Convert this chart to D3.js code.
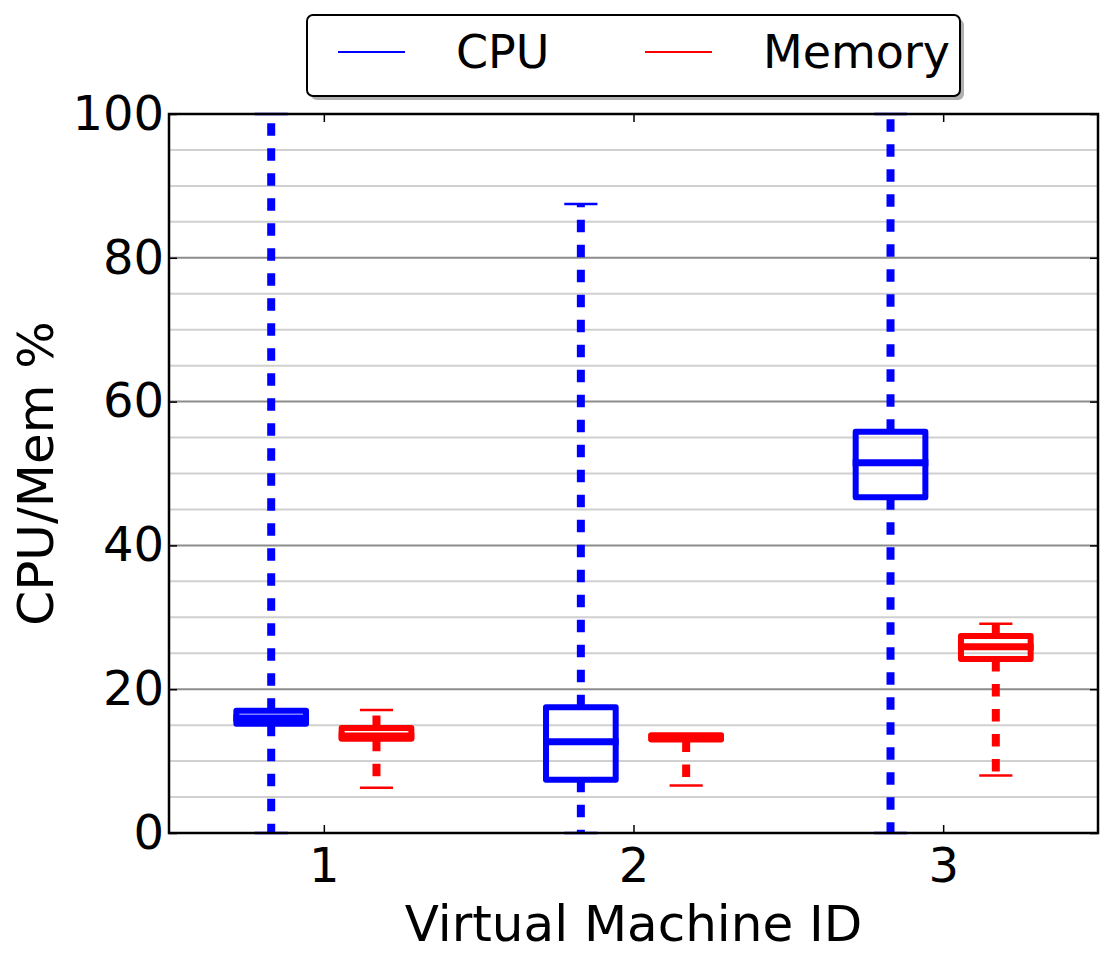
<!DOCTYPE html>
<html>
<head>
<meta charset="utf-8">
<script src="https://cdn.jsdelivr.net/npm/d3@7"></script>
<style>
  body { margin: 0; background: #fff; }
  text { font-family: "DejaVu Sans", sans-serif; }
</style>
</head>
<body>
<div class="chart"></div>
<script>
const w = 1114;
const h = 966;

// data
const machines = [1, 2, 3];
const series = ["CPU", "Memory"];
const colors = ["#0000ff", "#ff0000"];
// [whisker low, q1, median, q3, whisker high]
const cpuStats = [
  [0, 15.2, 16.0, 17.0, 100],
  [0, 7.4, 12.7, 17.5, 87.5],
  [0, 46.7, 51.5, 55.8, 100]
];
const memStats = [
  [6.3, 13.1, 13.5, 14.6, 17.1],
  [6.6, 13.0, 13.3, 13.6, 13.7],
  [8.0, 24.2, 25.9, 27.4, 29.1]
];
const yTicks = [0, 20, 40, 60, 80, 100];
const yMinor = d3.range(0, 101, 5);

const margin = {top: 114, right: 16, bottom: 133, left: 169};

const svg = d3.select(".chart")
.append("svg")
.attr("width", w)
.attr("height", h);

const x = d3.scaleLinear()
  .domain([0.5, 3.5])
  .range([margin.left, w - margin.right]);

const y = d3.scaleLinear()
  .domain([0, 100])
  .range([h - margin.bottom, margin.top]);

const unit = x(1) - x(0);
const offsets = [-0.17, 0.17];
const boxW = 0.225 * unit;
const capW = 0.107 * unit;

// grid
svg.append("g")
  .selectAll("line")
  .data(yMinor.filter(d => d % 20 != 0))
  .enter().append("line")
  .attr("x1", x(0.5)).attr("x2", x(3.5))
  .attr("y1", d => y(d)).attr("y2", d => y(d))
  .attr("stroke", "#d0d0d0")
  .attr("stroke-width", 2);

svg.append("g")
  .selectAll("line")
  .data(yTicks.slice(1, -1))
  .enter().append("line")
  .attr("x1", x(0.5)).attr("x2", x(3.5))
  .attr("y1", d => y(d)).attr("y2", d => y(d))
  .attr("stroke", "#8c8c8c")
  .attr("stroke-width", 2);

// boxes
[cpuStats, memStats].forEach((stats, si) => {
  const g = svg.append("g").attr("class", "series-" + si);
  const col = colors[si];
  stats.forEach((s, i) => {
    const cx = x(machines[i] + offsets[si]);
    // whiskers
    g.append("line")
      .attr("x1", cx).attr("x2", cx)
      .attr("y1", y(s[1])).attr("y2", y(s[0]))
      .attr("stroke", col).attr("stroke-width", 8)
      .attr("stroke-dasharray", "12.5,12.5");
    g.append("line")
      .attr("x1", cx).attr("x2", cx)
      .attr("y1", y(s[3])).attr("y2", y(s[4]))
      .attr("stroke", col).attr("stroke-width", 8)
      .attr("stroke-dasharray", "12.5,12.5");
    // caps
    [s[0], s[4]].forEach(v => {
      g.append("line")
        .attr("x1", cx - capW / 2).attr("x2", cx + capW / 2)
        .attr("y1", y(v)).attr("y2", y(v))
        .attr("stroke", col).attr("stroke-width", 2.5);
    });
    // box
    g.append("rect")
      .attr("x", cx - boxW / 2)
      .attr("y", y(s[3]))
      .attr("width", boxW)
      .attr("height", y(s[1]) - y(s[3]))
      .attr("fill", "none")
      .attr("stroke", col).attr("stroke-width", 6)
      .attr("stroke-linejoin", "round");
    // median
    g.append("line")
      .attr("x1", cx - boxW / 2 - 3).attr("x2", cx + boxW / 2 + 3)
      .attr("y1", y(s[2])).attr("y2", y(s[2]))
      .attr("stroke", col).attr("stroke-width", 7);
  });
});

// frame
svg.append("rect")
  .attr("x", x(0.5)).attr("y", y(100))
  .attr("width", x(3.5) - x(0.5))
  .attr("height", y(0) - y(100))
  .attr("fill", "none")
  .attr("stroke", "#000")
  .attr("stroke-width", 2.5);

// axes, ticks inside
const yAxis = svg.append("g")
  .attr("transform", `translate(${x(0.5)},0)`)
  .call(d3.axisLeft(y).tickValues(yTicks).tickSizeInner(-8).tickSizeOuter(0).tickPadding(5));
const yAxisR = svg.append("g")
  .attr("transform", `translate(${x(3.5)},0)`)
  .call(d3.axisRight(y).tickValues(yTicks).tickSizeInner(-8).tickSizeOuter(0).tickFormat(""));
const xAxis = svg.append("g")
  .attr("transform", `translate(0,${y(0)})`)
  .call(d3.axisBottom(x).tickValues(machines).tickFormat(d3.format("d"))
    .tickSizeInner(-8).tickSizeOuter(0).tickPadding(15));
const xAxisT = svg.append("g")
  .attr("transform", `translate(0,${y(100)})`)
  .call(d3.axisTop(x).tickValues(machines).tickSizeInner(-8).tickSizeOuter(0).tickFormat(""));

[yAxis, yAxisR, xAxis, xAxisT].forEach(a => {
  a.select(".domain").remove();
  a.selectAll(".tick line").attr("stroke", "#000").attr("stroke-width", 1.5);
  a.selectAll("text")
    .attr("font-family", "DejaVu Sans")
    .attr("font-size", 48)
    .attr("fill", "#000");
});

// axis titles
svg.append("text")
  .attr("x", (x(0.5) + x(3.5)) / 2)
  .attr("y", 941)
  .attr("text-anchor", "middle")
  .attr("font-size", 50)
  .text("Virtual Machine ID");

svg.append("text")
  .attr("transform", `translate(53,${(y(0) + y(100)) / 2}) rotate(-90)`)
  .attr("text-anchor", "middle")
  .attr("font-size", 50)
  .text("CPU/Mem %");

// legend
const leg = svg.append("g");
leg.append("rect")
  .attr("x", 311).attr("y", 19)
  .attr("width", 653).attr("height", 81)
  .attr("rx", 6)
  .attr("fill", "#b0b0b0");
leg.append("rect")
  .attr("x", 307).attr("y", 15)
  .attr("width", 653).attr("height", 81)
  .attr("rx", 6)
  .attr("fill", "#fff")
  .attr("stroke", "#000")
  .attr("stroke-width", 2);

const legX = [338, 645];
const legTextX = [456, 763];
series.forEach((s, i) => {
  leg.append("line")
    .attr("x1", legX[i]).attr("x2", legX[i] + 67)
    .attr("y1", 52).attr("y2", 52)
    .attr("stroke", colors[i])
    .attr("stroke-width", 2);
  leg.append("text")
    .attr("x", legTextX[i])
    .attr("y", 68)
    .attr("font-size", 46)
    .text(s);
});
</script>
</body>
</html>
